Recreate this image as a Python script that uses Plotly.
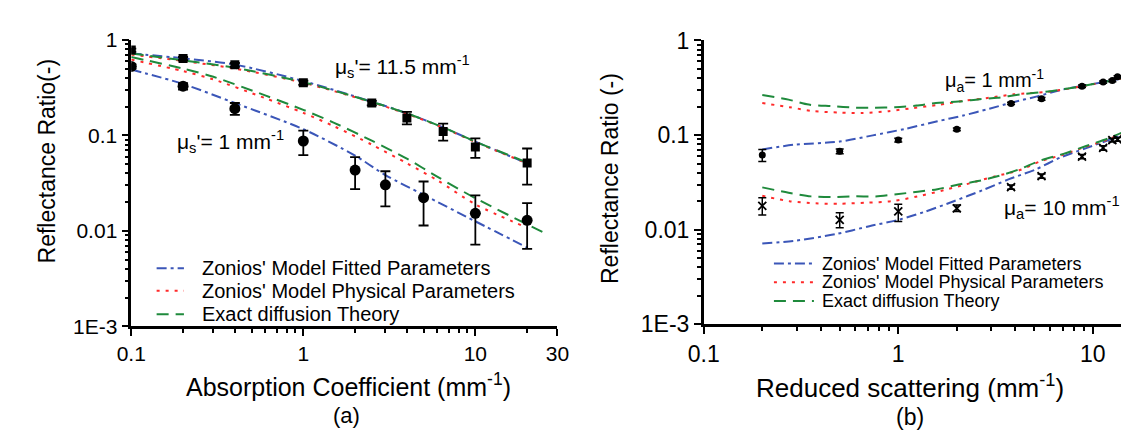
import plotly.graph_objects as go
import numpy as np

W, H = 1129, 433
FONT = "Liberation Sans, Arial, sans-serif"
BLUE = "#3b56b8"
RED = "#ff2a2a"
GREEN = "#1f8a3c"
DASH_FIT = "10px,4px,3px,4px"
DASH_PHYS = "3px,6px"
DASH_EXACT = "12px,7px"

# ---------------- Panel (a) data ----------------
a_sq_x = [0.1, 0.2, 0.4, 1, 2.5, 4, 6.5, 10, 20]
a_sq_y = [0.78, 0.636, 0.547, 0.355, 0.218, 0.152, 0.110, 0.0757, 0.0515]
a_sq_ep = [0.03, 0.025, 0.025, 0.018, 0.012, 0.024, 0.023, 0.0173, 0.0214]
a_sq_em = [0.03, 0.025, 0.025, 0.018, 0.012, 0.022, 0.022, 0.0177, 0.0210]

a_ci_x = [0.1, 0.2, 0.4, 1, 2, 3, 5, 10, 20]
a_ci_y = [0.527, 0.327, 0.19, 0.0873, 0.0433, 0.0304, 0.0223, 0.0153, 0.0129]
a_ci_ep = [0.03, 0.025, 0.028, 0.0247, 0.0158, 0.0117, 0.0106, 0.0083, 0.0066]
a_ci_em = [0.03, 0.025, 0.026, 0.0252, 0.0159, 0.0123, 0.0109, 0.0081, 0.0064]

# model curves, mu_s' = 11.5
a_hi_x = [0.1, 0.2, 0.4, 1, 2.5, 4, 6.5, 10, 20]
a_hi_fit = [0.72, 0.64, 0.55, 0.37, 0.225, 0.17, 0.121, 0.086, 0.051]
a_hi_phys = [0.70, 0.60, 0.50, 0.355, 0.222, 0.168, 0.120, 0.085, 0.051]
a_hi_exact = [0.72, 0.61, 0.51, 0.36, 0.224, 0.17, 0.121, 0.086, 0.052]
# model curves, mu_s' = 1
a_lo_fit_x = [0.1, 0.2, 0.4, 1, 2, 3, 5, 10, 20]
a_lo_fit = [0.488, 0.345, 0.218, 0.116, 0.0613, 0.0384, 0.0239, 0.0126, 0.0067]
a_lo_phys_x = [0.1, 0.2, 0.3, 0.6, 1, 1.5, 2.5, 4, 6, 10, 20]
a_lo_phys = [0.62, 0.47, 0.385, 0.245, 0.172, 0.125, 0.08, 0.051, 0.034, 0.019, 0.0108]
a_lo_exact_x = [0.1, 0.2, 0.3, 0.6, 1, 1.5, 2.5, 4, 6, 10, 25]
a_lo_exact = [0.66, 0.50, 0.41, 0.262, 0.185, 0.136, 0.088, 0.057, 0.037, 0.022, 0.0096]

# ---------------- Panel (b) data ----------------
b_x = [0.2, 0.5, 1, 2, 3.8, 5.45, 8.8, 11.3, 12.6, 13.4]
b_hi_y = [0.0615, 0.0673, 0.0886, 0.115, 0.216, 0.242, 0.329, 0.363, 0.377, 0.414]
b_hi_e = [0.009, 0.004, 0.004, 0.004, 0.006, 0.008, 0.01, 0.01, 0.01, 0.01]
b_lo_y = [0.0179, 0.0127, 0.0156, 0.0168, 0.0282, 0.0369, 0.0593, 0.0733, 0.0886, 0.090]
b_lo_ep = [0.0038, 0.0024, 0.003, 0.0014, 0.0015, 0.002, 0.003, 0.004, 0.004, 0.004]
b_lo_em = [0.0036, 0.0022, 0.0034, 0.0012, 0.0015, 0.002, 0.003, 0.004, 0.004, 0.004]

b_hi_fit_x = [0.2, 0.29, 0.5, 0.74, 1.08, 1.59, 2.16, 2.94, 3.85, 5.24, 6.86, 9.33, 13.7, 16]
b_hi_fit = [0.0705, 0.079, 0.0854, 0.0993, 0.116, 0.14, 0.161, 0.19, 0.221, 0.258, 0.30, 0.337, 0.392, 0.41]
b_hi_phys_x = [0.2, 0.276, 0.368, 0.5, 0.656, 0.893, 1.19, 1.59, 2.16, 2.94, 3.93, 5.9, 8.8, 14.6, 16]
b_hi_phys = [0.218, 0.197, 0.179, 0.173, 0.171, 0.179, 0.193, 0.208, 0.23, 0.248, 0.27, 0.287, 0.327, 0.40, 0.41]
b_hi_exact_x = [0.2, 0.273, 0.347, 0.455, 0.6, 0.75, 0.96, 1.24, 1.56, 2.04, 2.62, 3.24, 4.3, 5.9, 8.8, 14.6, 16]
b_hi_exact = [0.265, 0.237, 0.21, 0.202, 0.195, 0.195, 0.197, 0.205, 0.218, 0.226, 0.239, 0.248, 0.27, 0.289, 0.329, 0.40, 0.41]

b_lo_fit_x = [0.2, 0.29, 0.48, 0.71, 1.0, 1.36, 1.93, 2.72, 3.71, 5.04, 6.86, 9.33, 12.7, 14.6, 16]
b_lo_fit = [0.00716, 0.00762, 0.009, 0.0109, 0.0127, 0.0154, 0.020, 0.0262, 0.0342, 0.043, 0.0583, 0.0733, 0.092, 0.103, 0.108]
b_lo_phys_x = [0.2, 0.276, 0.376, 0.5, 0.683, 0.927, 1.26, 1.72, 2.34, 3.18, 4.13, 5.41, 7.0, 9.16, 12.0, 14.3, 16]
b_lo_phys = [0.0228, 0.020, 0.019, 0.0188, 0.0193, 0.020, 0.0225, 0.0262, 0.031, 0.0369, 0.042, 0.053, 0.062, 0.075, 0.09, 0.105, 0.11]
b_lo_exact_x = [0.2, 0.273, 0.356, 0.455, 0.6, 0.765, 0.98, 1.26, 1.59, 2.04, 2.62, 3.27, 4.13, 5.41, 7.0, 9.16, 12.0, 14.3, 16]
b_lo_exact = [0.028, 0.0246, 0.0225, 0.0221, 0.0225, 0.0225, 0.0237, 0.0252, 0.0268, 0.030, 0.0329, 0.0369, 0.043, 0.054, 0.0629, 0.0762, 0.092, 0.107, 0.112]

y_tickvals = [0.001, 0.01, 0.1, 1]
y_ticktext = ["1E-3", "0.01", "0.1", "1"]
a_x_tickvals = [0.1, 1, 10, 30]
a_x_ticktext = ["0.1", "1", "10", "30"]
b_x_tickvals = [0.1, 1, 10]
b_x_ticktext = ["0.1", "1", "10"]

legend_names = ["Zonios' Model Fitted Parameters",
                "Zonios' Model Physical Parameters",
                "Exact diffusion Theory"]
legend_colors = [BLUE, RED, GREEN]
legend_dashes = [DASH_FIT, DASH_PHYS, DASH_EXACT]

# ---------------- geometry (pixels) ----------------
def px(x):
    return x / W

def py(y):
    return 1 - y / H

a_dom_x = [px(110), px(547)]
a_dom_y = [py(325), py(20)]
b_dom_x = [px(697), 1.0]
b_dom_y = [py(322.7), py(20.7)]
b_xmax = -1 + (1129 - 697) / 199.5

fig = go.Figure()

def line(xs, ys, color, dash, xa, ya):
    fig.add_trace(go.Scatter(
        x=xs, y=ys, mode="lines", xaxis=xa, yaxis=ya, showlegend=False,
        line=dict(color=color, width=2, dash=dash, shape="spline", smoothing=0.8),
        hoverinfo="skip"))

# Panel (a) curves
line(a_hi_x, a_hi_fit, BLUE, DASH_FIT, "x", "y")
line(a_hi_x, a_hi_phys, RED, DASH_PHYS, "x", "y")
line(a_hi_x, a_hi_exact, GREEN, DASH_EXACT, "x", "y")
line(a_lo_fit_x, a_lo_fit, BLUE, DASH_FIT, "x", "y")
line(a_lo_phys_x, a_lo_phys, RED, DASH_PHYS, "x", "y")
line(a_lo_exact_x, a_lo_exact, GREEN, DASH_EXACT, "x", "y")

fig.add_trace(go.Scatter(
    x=a_sq_x, y=a_sq_y, mode="markers", xaxis="x", yaxis="y", showlegend=False,
    marker=dict(symbol="square", size=9, color="black"),
    error_y=dict(type="data", array=a_sq_ep, arrayminus=a_sq_em, color="black",
                 thickness=1.8, width=5)))
fig.add_trace(go.Scatter(
    x=a_ci_x, y=a_ci_y, mode="markers", xaxis="x", yaxis="y", showlegend=False,
    marker=dict(symbol="circle", size=11, color="black"),
    error_y=dict(type="data", array=a_ci_ep, arrayminus=a_ci_em, color="black",
                 thickness=1.8, width=5)))

# Panel (b) curves
line(b_hi_fit_x, b_hi_fit, BLUE, DASH_FIT, "x2", "y2")
line(b_hi_phys_x, b_hi_phys, RED, DASH_PHYS, "x2", "y2")
line(b_hi_exact_x, b_hi_exact, GREEN, DASH_EXACT, "x2", "y2")
line(b_lo_fit_x, b_lo_fit, BLUE, DASH_FIT, "x2", "y2")
line(b_lo_phys_x, b_lo_phys, RED, DASH_PHYS, "x2", "y2")
line(b_lo_exact_x, b_lo_exact, GREEN, DASH_EXACT, "x2", "y2")

fig.add_trace(go.Scatter(
    x=b_x, y=b_hi_y, mode="markers", xaxis="x2", yaxis="y2", showlegend=False,
    marker=dict(symbol="circle", size=7, color="black"),
    error_y=dict(type="data", array=b_hi_e, color="black", thickness=1.5, width=4)))
fig.add_trace(go.Scatter(
    x=b_x, y=b_lo_y, mode="markers", xaxis="x2", yaxis="y2", showlegend=False,
    marker=dict(symbol="x-thin-open", size=8, color="black", line=dict(width=1.8, color="black")),
    error_y=dict(type="data", array=b_lo_ep, arrayminus=b_lo_em, color="black",
                 thickness=1.5, width=4)))

minor_x = [v * d for d in (0.1, 1, 10) for v in range(2, 10)]
minor_y = [v * d for d in (0.001, 0.01, 0.1) for v in range(2, 10)]

def xaxis(dom, rng, tv, tt, anchor, fsize, side="bottom", ticks="outside", labels=True, overlaying=None):
    d = dict(type="log", domain=dom, range=rng, anchor=anchor, side=side,
             tickmode="array", tickvals=tv, ticktext=tt, showticklabels=labels,
             ticks=ticks, ticklen=7, tickwidth=2, tickcolor="black",
             showline=True, linecolor="black", linewidth=2.5, showgrid=False,
             zeroline=False, tickfont=dict(family=FONT, size=fsize, color="black"),
             minor=dict(tickmode="array", tickvals=minor_x, ticks=ticks,
                        ticklen=4, tickwidth=2, tickcolor="black", showgrid=False))
    if overlaying:
        d["overlaying"] = overlaying
    return d

def yaxis(dom, anchor, fsize, side="left", ticks="outside", labels=True, overlaying=None):
    d = dict(type="log", domain=dom, range=[-3, 0], anchor=anchor, side=side,
             tickmode="array", tickvals=y_tickvals, ticktext=y_ticktext,
             showticklabels=labels, ticks=ticks, ticklen=7, tickwidth=2,
             tickcolor="black", showline=True, linecolor="black", linewidth=2.5,
             showgrid=False, zeroline=False,
             tickfont=dict(family=FONT, size=fsize, color="black"),
             minor=dict(tickmode="array", tickvals=minor_y, ticks=ticks,
                        ticklen=4, tickwidth=2, tickcolor="black", showgrid=False))
    if overlaying:
        d["overlaying"] = overlaying
    return d

a_rng = [-1, np.log10(30)]
b_rng = [-1, b_xmax]

fig.update_layout(
    xaxis=xaxis(a_dom_x, a_rng, a_x_tickvals, a_x_ticktext, "y", 21),
    yaxis=yaxis(a_dom_y, "x", 21),
    xaxis3=xaxis(a_dom_x, a_rng, a_x_tickvals, a_x_ticktext, "y", 21, side="top",
                 ticks="inside", labels=False, overlaying="x"),
    yaxis3=yaxis(a_dom_y, "x", 21, side="right", ticks="inside", labels=False, overlaying="y"),
    xaxis2=xaxis(b_dom_x, b_rng, b_x_tickvals, b_x_ticktext, "y2", 23),
    yaxis2=yaxis(b_dom_y, "x2", 23),
    xaxis4=xaxis(b_dom_x, b_rng, b_x_tickvals, b_x_ticktext, "y2", 23, side="top",
                 ticks="inside", labels=False, overlaying="x2"),
)

def f(size):
    return dict(family=FONT, size=size, color="black")

annotations = [
    dict(text="Reflectance Ratio(-)", x=px(24), y=py(149), textangle=-90, font=f(23)),
    dict(text="Absorption Coefficient (mm<sup>-1</sup>)", x=px(333), y=py(387), font=f(25)),
    dict(text="(a)", x=px(331), y=py(420), font=f(22)),
    dict(text="Reflectance Ratio (-)", x=px(601), y=py(168), textangle=-90, font=f(23)),
    dict(text="Reduced scattering (mm<sup>-1</sup>)", x=px(909), y=py(389), font=f(26)),
    dict(text="(b)", x=px(909), y=py(421), font=f(23)),
    dict(text="\u03bc<sub>s</sub>'= 11.5 mm<sup>-1</sup>", x=px(388), y=py(48), font=f(21)),
    dict(text="\u03bc<sub>s</sub>'= 1 mm<sup>-1</sup>", x=px(212), y=py(128), font=f(21)),
    dict(text="\u03bc<sub>a</sub>= 1 mm<sup>-1</sup>", x=px(995), y=py(63), font=f(20)),
    dict(text="\u03bc<sub>a</sub>= 10 mm<sup>-1</sup>", x=px(1126), y=py(198), xanchor="right", font=f(21)),
]

# legends (line samples + labels)
shapes = []
leg_specs = [
    dict(x0=136, x1=164, tx=180, rows=[263, 287, 312], size=20),
    dict(x0=769, x1=810, tx=816, rows=[258, 278, 298], size=18),
]
for spec in leg_specs:
    for name, color, dash, yrow in zip(legend_names, legend_colors, legend_dashes, spec["rows"]):
        shapes.append(dict(type="line", xref="paper", yref="paper",
                           x0=px(spec["x0"]), x1=px(spec["x1"]), y0=py(yrow), y1=py(yrow),
                           line=dict(color=color, width=2, dash=dash)))
        annotations.append(dict(text=name, x=px(spec["tx"]), y=py(yrow), xanchor="left",
                                font=f(spec["size"])))

for a in annotations:
    a.setdefault("xanchor", "center")
    a.update(xref="paper", yref="paper", showarrow=False, yanchor="middle")

fig.update_layout(
    annotations=annotations,
    shapes=shapes,
    width=W, height=H, autosize=False,
    margin=dict(l=0, r=0, t=0, b=0),
    paper_bgcolor="white", plot_bgcolor="white",
    font=dict(family=FONT, color="black"),
    showlegend=False,
)

fig.write_html("out.html")
